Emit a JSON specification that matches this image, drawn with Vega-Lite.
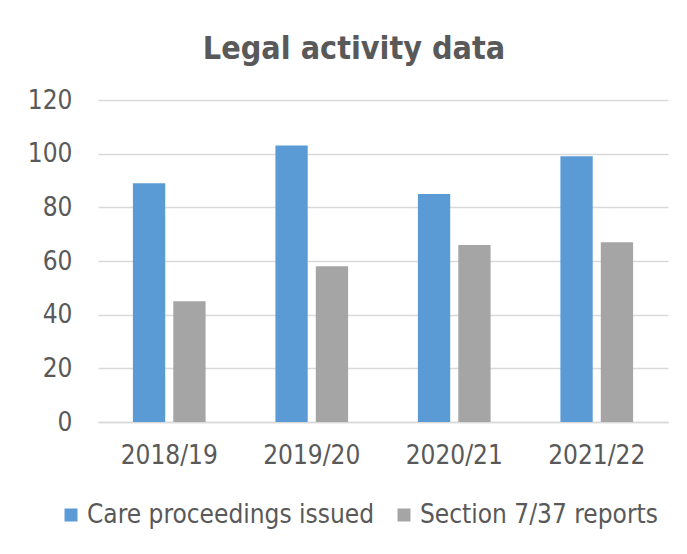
{
  "$schema": "https://vega.github.io/schema/vega-lite/v6.json",
  "autosize": {"type": "none"},
  "width": 570,
  "height": 322,
  "padding": {"left": 98, "top": 100, "right": 19, "bottom": 132},
  "background": "white",
  "title": {
    "text": "Legal activity data",
    "fontSize": 32,
    "fontWeight": "bold",
    "font": "DejaVu Sans Condensed",
    "color": "#595959",
    "anchor": "middle",
    "dx": -29,
    "offset": 21
  },
  "data": {
    "values": [
      {"year": "2018/19", "series": "Care proceedings issued", "value": 89},
      {"year": "2018/19", "series": "Section 7/37 reports", "value": 45},
      {"year": "2019/20", "series": "Care proceedings issued", "value": 103},
      {"year": "2019/20", "series": "Section 7/37 reports", "value": 58},
      {"year": "2020/21", "series": "Care proceedings issued", "value": 85},
      {"year": "2020/21", "series": "Section 7/37 reports", "value": 66},
      {"year": "2021/22", "series": "Care proceedings issued", "value": 99},
      {"year": "2021/22", "series": "Section 7/37 reports", "value": 67}
    ]
  },
  "mark": {"type": "bar"},
  "encoding": {
    "x": {
      "field": "year",
      "type": "nominal",
      "sort": null,
      "scale": {"paddingInner": 0.49, "paddingOuter": 0.245},
      "axis": {
        "title": null,
        "labelAngle": 0,
        "ticks": false,
        "domainColor": "#D9D9D9",
        "domainWidth": 1.3,
        "labelFont": "DejaVu Sans Condensed",
        "labelFontSize": 26,
        "labelColor": "#595959",
        "labelPadding": 20
      }
    },
    "xOffset": {
      "field": "series",
      "type": "nominal",
      "scale": {"paddingInner": 0.2, "paddingOuter": 0}
    },
    "y": {
      "field": "value",
      "type": "quantitative",
      "scale": {"domain": [0, 120], "nice": false},
      "axis": {
        "title": null,
        "values": [0, 20, 40, 60, 80, 100, 120],
        "ticks": false,
        "domain": false,
        "gridColor": "#D9D9D9",
        "gridWidth": 1.3,
        "labelFont": "DejaVu Sans Condensed",
        "labelFontSize": 26,
        "labelColor": "#595959",
        "labelPadding": 26
      }
    },
    "color": {
      "field": "series",
      "type": "nominal",
      "scale": {
        "domain": ["Care proceedings issued", "Section 7/37 reports"],
        "range": ["#5B9BD5", "#A5A5A5"]
      },
      "legend": {
        "title": null,
        "orient": "none",
        "direction": "horizontal",
        "legendX": -40,
        "legendY": 402,
        "symbolType": "square",
        "symbolSize": 169,
        "symbolStrokeWidth": 0,
        "labelFont": "DejaVu Sans Condensed",
        "labelFontSize": 26,
        "labelColor": "#595959",
        "labelOffset": 3,
        "columnPadding": 17,
        "labelLimit": 400
      }
    }
  },
  "config": {"view": {"stroke": null}}
}
